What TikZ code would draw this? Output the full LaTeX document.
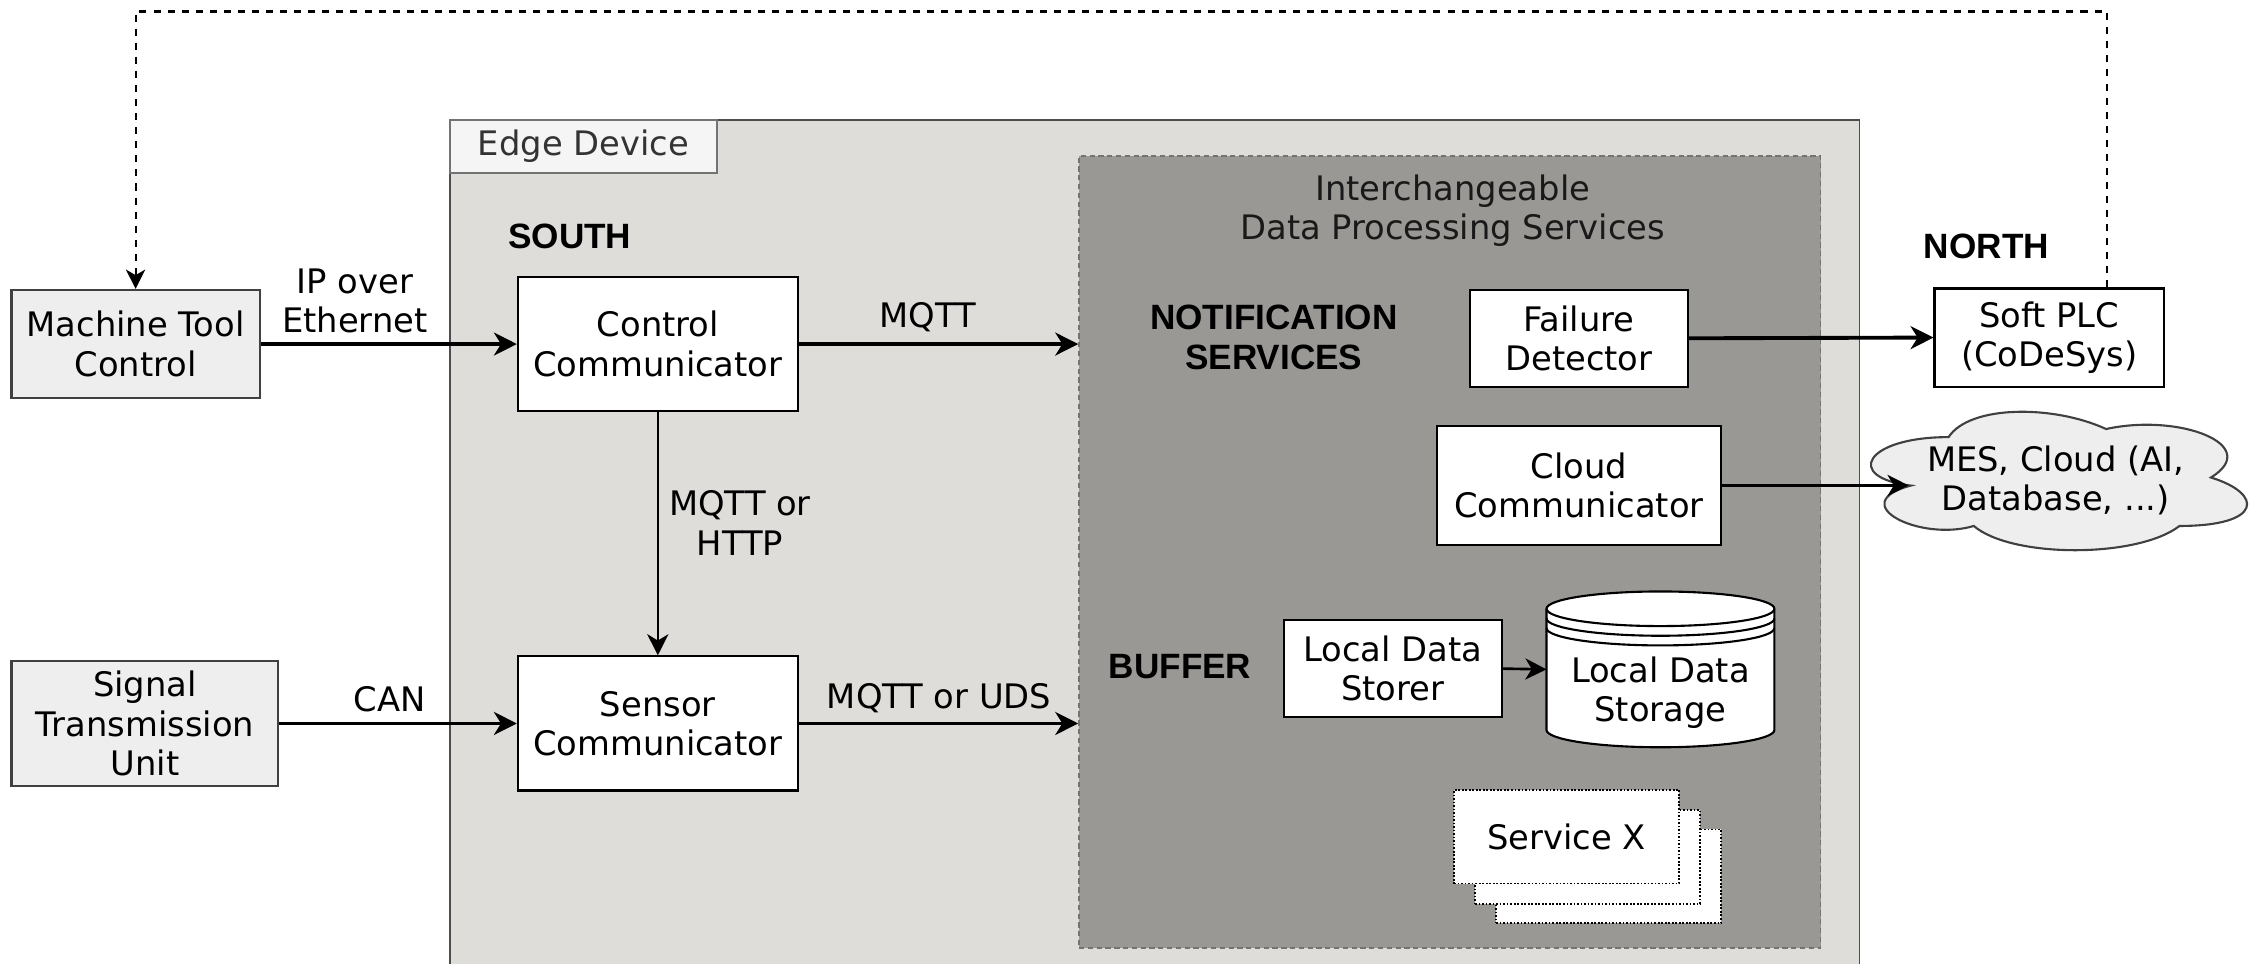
\documentclass[tikz,border=0pt]{standalone}
\usepackage{fontspec}
\setmainfont{DejaVu Sans}
\newfontfamily\lab{Liberation Sans}
\usetikzlibrary{arrows.meta,calc}
\def\U{0.014426cm}
\definecolor{edgefill}{HTML}{DEDDD9}
\definecolor{dpsfill}{HTML}{999894}
\definecolor{tabfill}{HTML}{F5F5F5}
\definecolor{extfill}{HTML}{EEEEEE}
\tikzset{
  box/.style={draw=black, line width=0.6pt, fill=white, inner sep=0pt, align=center,
    font=\fontsize{9.6}{11.2}\selectfont},
  extbox/.style={box, draw=black!75, fill=extfill},
  heading/.style={font=\lab\fontsize{10}{11.5}\selectfont\bfseries, align=center, inner sep=0pt},
  plain/.style={font=\fontsize{9.6}{11.2}\selectfont, align=center, inner sep=0pt},
  conn/.style={line width=1.1pt, -{Stealth[length=6.5pt,width=6.5pt,inset=2pt]}},
  thinconn/.style={line width=0.75pt, -{Stealth[length=6pt,width=6pt,inset=1.8pt]}},
}
\begin{document}
\begin{tikzpicture}[x={(\U,0)}, y={(0,-\U)}]
\useasboundingbox (0,0) rectangle (1568,668);
\clip (0,0) rectangle (1568,668);
% Edge device container
\node[draw=black!70, line width=0.5pt, fill=edgefill, minimum width=977*\U, minimum height=640*\U, inner sep=0pt] (edge) at (800.5,403) {};
\node[draw=black!55, line width=0.5pt, fill=tabfill, minimum width=185*\U, minimum height=37*\U, inner sep=0pt,
  font=\fontsize{9.6}{11.2}\selectfont, text=black!80] (tab) at (404.5,101.5) {Edge Device};
% Data processing services container
\node[draw=black!55, line width=0.5pt, dash pattern=on 1.5pt off 1pt, fill=dpsfill, minimum width=514*\U, minimum height=549*\U, inner sep=0pt] (dps) at (1005,382.5) {};
\node[plain, text=black!90] (dpstitle) at (1007,146) {Interchangeable\\Data Processing Services};
% headings
\node[heading] (south) at (395,164) {SOUTH};
\node[heading] (north) at (1377,171) {NORTH};
\node[heading] (notif) at (883,234) {NOTIFICATION\\SERVICES};
\node[heading] (buffer) at (818,462) {BUFFER};
% external boxes
\node[extbox, minimum width=172*\U, minimum height=75*\U] (mtc) at (94,238.5) {Machine Tool\\Control};
\node[extbox, minimum width=185*\U, minimum height=87*\U] (stu) at (100.5,501.5) {Signal\\Transmission\\Unit};
% communicators
\node[box, minimum width=194*\U, minimum height=93*\U] (cc) at (456,238.5) {Control\\Communicator};
\node[box, minimum width=194*\U, minimum height=93*\U] (sc) at (456,501.5) {Sensor\\Communicator};
% services
\node[box, minimum width=151*\U, minimum height=67*\U] (fd) at (1094.5,234.5) {Failure\\Detector};
\node[box, minimum width=197*\U, minimum height=83*\U] (cloudc) at (1094.5,336.5) {Cloud\\Communicator};
\node[box, minimum width=151*\U, minimum height=67*\U] (lds) at (965.5,463.5) {Local Data\\Storer};
\node[box, minimum width=159*\U, minimum height=68*\U] (plc) at (1420.5,234) {Soft PLC\\(CoDeSys)};
% cloud
\draw[draw=black!75, line width=0.6pt, fill=extfill]
  (1350.75,303) .. controls (1292.55,303) and (1278,331) .. (1324.56,336.6)
  .. controls (1278,348.9) and (1330.4,375.8) .. (1368.2,364.6)
  .. controls (1394.4,387) and (1481.7,387) .. (1510.8,364.6)
  .. controls (1569,364.6) and (1569,342.2) .. (1532.6,331)
  .. controls (1569,308.6) and (1510.8,286.2) .. (1459.9,297.4)
  .. controls (1423.5,280.6) and (1365.3,280.6) .. (1350.75,303) -- cycle;
\node[plain] (cloud) at (1425,333) {MES, Cloud (AI,\\Database, ...)};
% storage cylinder
\draw[line width=0.6pt, fill=white] (1072,422) -- (1072,506)
  arc[start angle=180, end angle=360, x radius=79*\U, y radius=12*\U] -- (1230,422)
  arc[start angle=0, end angle=180, x radius=79*\U, y radius=12*\U] -- cycle;
\draw[line width=0.6pt] (1072,422) arc[start angle=180, end angle=360, x radius=79*\U, y radius=12*\U];
\draw[line width=0.6pt] (1072,428.7) arc[start angle=180, end angle=360, x radius=79*\U, y radius=12*\U];
\draw[line width=0.6pt] (1072,435.4) arc[start angle=180, end angle=360, x radius=79*\U, y radius=12*\U];
\node[plain] (storage) at (1151,480) {Local Data\\Storage};
\coordinate (storin) at (1072,464);
% Service X stack
\node[box, line width=0.5pt, dash pattern=on 0.5pt off 0.5pt, minimum width=156*\U, minimum height=65*\U] (sx3) at (1115,607.5) {};
\node[box, line width=0.5pt, dash pattern=on 0.5pt off 0.5pt, minimum width=156*\U, minimum height=65*\U] (sx2) at (1100.5,594) {};
\node[box, line width=0.5pt, dash pattern=on 0.5pt off 0.5pt, minimum width=156*\U, minimum height=65*\U] (sx) at (1086,580) {Service X};
% connectors
\draw[conn] (mtc.east) -- (cc.west);
\node[plain] (lip) at (246,208.5) {IP over\\Ethernet};
\draw[conn] (cc.east) -- (cc.east -| dps.west);
\node[plain] (lmqtt) at (643,220) {MQTT};
\draw[thinconn] (cc.south) -- (sc.north);
\node[plain] (lhttp) at (513,362.5) {MQTT or\\HTTP};
\draw[conn] (stu.east) -- (sc.west);
\node[plain] (lcan) at (270,485) {CAN};
\draw[conn] (sc.east) -- (sc.east -| dps.west);
\node[plain] (luds) at (651,484) {MQTT or UDS};
\draw[conn] (fd.east) -- (plc.west);
\coordinate (cloudin) at (1323,336.5);
\draw[thinconn] (cloudc.east) -- (cloudin);
\draw[thinconn] (lds.east) -- (storin);
\draw[line width=0.6pt, dash pattern=on 2pt off 2pt, -{Stealth[length=5.5pt,width=5.5pt,inset=1.6pt]}]
  ($(plc.north)+(40,0)$) |- (94,8) -| (mtc.north);
\end{tikzpicture}
\end{document}
